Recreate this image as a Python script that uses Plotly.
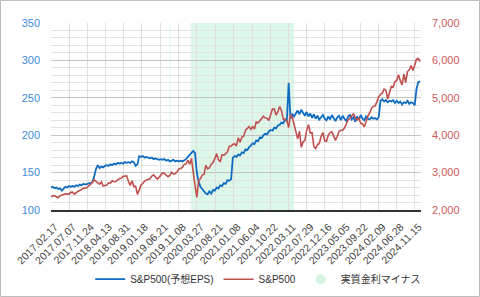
import pandas as pd
import plotly.graph_objects as go

# ---------------- data (biweekly samples) ----------------
start_date = "2017-02-17"
n_points = 206
dates = pd.date_range(start_date, periods=n_points, freq="14D")

spx_2017 = [2351, 2383, 2378, 2363, 2329, 2384, 2391, 2416, 2432, 2438, 2425, 2472,
            2476, 2425, 2477, 2500, 2519, 2553, 2581, 2582, 2602, 2652, 2683]
spx_2018 = [2743, 2810, 2762, 2732, 2691, 2752, 2641, 2656, 2670, 2728, 2721, 2779, 2755,
            2760, 2802, 2840, 2850, 2902, 2905, 2914, 2767, 2658, 2781, 2633, 2633, 2417]
spx_2019 = [2532, 2671, 2707, 2776, 2804, 2822, 2834, 2907, 2940, 2881, 2826, 2873, 2950,
            2990, 2977, 2932, 2889, 2926, 3007, 2962, 2970, 3023, 3093, 3110, 3146, 3221]
spx_2020 = [3235, 3330, 3226, 3380, 2954, 2650, 2340, 2790, 2837, 2930, 2955, 3194, 3098,
            3130, 3225, 3271, 3373, 3508, 3341, 3298, 3477, 3465, 3509, 3558, 3699, 3709]
spx_2021 = [3756, 3768, 3714, 3934, 3811, 3943, 3975, 4129, 4180, 4233, 4156, 4230, 4166,
            4352, 4327, 4395, 4468, 4509, 4459, 4455, 4391, 4545, 4698, 4698, 4538, 4621, 4766]
spx_2022 = [4663, 4432, 4419, 4385, 4204, 4543, 4488, 4272, 4123, 3901, 4109, 3675, 3825,
            3863, 4130, 4280, 4058, 4067, 3693, 3640, 3752, 3771, 3965, 4072, 3852, 3840]
spx_2023 = [3999, 4071, 4090, 3970, 3862, 3971, 4105, 4133, 4136, 4192, 4282, 4410, 4450,
            4505, 4582, 4464, 4406, 4457, 4320, 4308, 4224, 4358, 4514, 4595, 4719, 4770]
spx_2024 = [4784, 4891, 5027, 5089, 5124, 5234, 5204, 4967, 5128, 5303, 5278, 5432, 5460,
            5615, 5459, 5344, 5634, 5408, 5703, 5751, 5865, 5728, 5870, 6032, 6051, 5971]

eps_2017 = [130, 131, 129, 130, 128, 129, 126, 129, 131, 130, 132, 131,
            132, 131, 133, 132, 134, 133, 135, 134, 135, 136, 136]
eps_2018 = [137, 145, 155, 160, 156, 158, 157, 159, 160, 159, 161, 160, 162,
            161, 163, 162, 163, 162, 164, 163, 164, 163, 165, 164, 159, 161]
eps_2019 = [172, 171, 172, 170, 171, 170, 169, 170, 168, 169, 168, 167, 168,
            167, 168, 166, 167, 165, 166, 167, 165, 166, 165, 166, 165, 166]
eps_2020 = [168, 171, 174, 177, 179, 176, 150, 138, 131, 128, 125, 122, 121,
            125, 122, 127, 126, 130, 129, 133, 132, 136, 135, 140, 139, 141]
eps_2021 = [170, 172, 171, 174, 173, 177, 176, 181, 180, 184, 186, 189, 188,
            193, 192, 197, 196, 200, 202, 201, 205, 207, 206, 210, 209, 213, 214]
eps_2022 = [217, 216, 221, 219, 270, 222, 228, 225, 229, 233, 228, 234, 230,
            226, 231, 225, 229, 223, 228, 222, 226, 221, 224, 227, 222, 220]
eps_2023 = [225, 221, 227, 222, 219, 224, 226, 220, 226, 222, 219, 225, 227,
            221, 224, 218, 225, 221, 227, 222, 220, 225, 222, 221, 224, 222]
eps_2024 = [223, 221, 224, 246, 248, 245, 247, 244, 246, 245, 247, 243, 246,
            243, 245, 241, 244, 243, 246, 242, 244, 243, 240, 262, 271, 272]

spx = spx_2017 + spx_2018 + spx_2019 + spx_2020 + spx_2021 + spx_2022 + spx_2023 + spx_2024
eps = eps_2017 + eps_2018 + eps_2019 + eps_2020 + eps_2021 + eps_2022 + eps_2023 + eps_2024

# periods of negative real interest rate
neg_start = ["2019-08-30", "2020-02-07"]
neg_end = ["2019-09-06", "2022-04-22"]

tick_labels = ["2017.02.17", "2017.07.07", "2017.11.24", "2018.04.13", "2018.08.31",
               "2019.01.18", "2019.06.21", "2019.11.08", "2020.03.27", "2020.08.21",
               "2021.01.08", "2021.06.04", "2021.10.22", "2022.03.11", "2022.07.29",
               "2022.12.16", "2023.05.05", "2023.09.22", "2024.02.09", "2024.06.28",
               "2024.11.15"]
tick_vals = [lbl.replace(".", "-") for lbl in tick_labels]

# ---------------- figure ----------------
W, H = 480, 297
ML, MR, MT, MB = 51, 59, 23, 87
FONT = "Liberation Sans, Arial, Noto Sans CJK JP, sans-serif"
BLUE = "#0f6cc0"
RED = "#c0504d"
GREEN = "#d3f5e2"

fig = go.Figure()

fig.add_trace(go.Scatter(x=dates, y=eps, name="S&P500(予想EPS)", mode="lines",
                         line=dict(color=BLUE, width=1.8), yaxis="y"))
fig.add_trace(go.Scatter(x=dates, y=spx, name="S&P500", mode="lines",
                         line=dict(color=RED, width=1.6), yaxis="y2"))
fig.add_trace(go.Scatter(x=[None], y=[None], name="実質金利マイナス", mode="markers",
                         marker=dict(color=GREEN, size=10, symbol="circle"), yaxis="y"))

shapes = []
for s, e in zip(neg_start, neg_end):
    shapes.append(dict(type="rect", xref="x", yref="paper", x0=s, x1=e, y0=0, y1=1,
                       fillcolor=GREEN, opacity=0.8, line=dict(width=0), layer="below"))
pw = W - ML - MR
ph = H - MT - MB
shapes.append(dict(type="rect", xref="paper", yref="paper",
                   x0=-(ML - 0.5) / pw, x1=1 + (MR - 0.5) / pw,
                   y0=-(MB - 0.5) / ph, y1=1 + (MT - 0.5) / ph,
                   line=dict(color="#bdbdbd", width=1), fillcolor="rgba(0,0,0,0)", layer="below"))

fig.update_layout(
    width=W, height=H,
    margin=dict(l=ML, r=MR, t=MT, b=MB, pad=0, autoexpand=False),
    paper_bgcolor="white", plot_bgcolor="rgba(0,0,0,0)",
    font=dict(family=FONT, size=11, color="#333"),
    showlegend=True,
    legend=dict(orientation="h", x=0.56, xanchor="center", y=-0.37, yanchor="middle",
                font=dict(size=10, color="#333"), itemwidth=30,
                bgcolor="rgba(0,0,0,0)"),
    shapes=shapes,
    xaxis=dict(type="date", range=["2017-02-17", "2025-01-03"], automargin=False,
               tickvals=tick_vals, ticktext=tick_labels, tickangle=-45,
               tickfont=dict(size=10.5, color="#444"),
               showgrid=True, gridcolor="#dedede", gridwidth=1,
               showline=True, linecolor="#333", linewidth=1.5,
               zeroline=False, ticks="", ticklabelstandoff=5, ticklabelshift=4),
    yaxis=dict(range=[100, 350], dtick=50, tick0=100, automargin=False,
               tickfont=dict(size=11, color="#3f8ddb"),
               showgrid=True, gridcolor="#c4c4c4", gridwidth=1,
               minor=dict(dtick=10, showgrid=True, gridcolor="#e4e4e4", gridwidth=1),
               zeroline=False, showline=False, ticks="", ticklabelstandoff=10),
    yaxis2=dict(range=[2000, 7000], dtick=1000, tick0=2000, overlaying="y", side="right",
                automargin=False,
                tickformat=",", tickfont=dict(size=11, color="#cf5b5b"),
                showgrid=False, zeroline=False, showline=False, ticks="",
                ticklabelstandoff=10),
)

fig.write_html("out.html")
